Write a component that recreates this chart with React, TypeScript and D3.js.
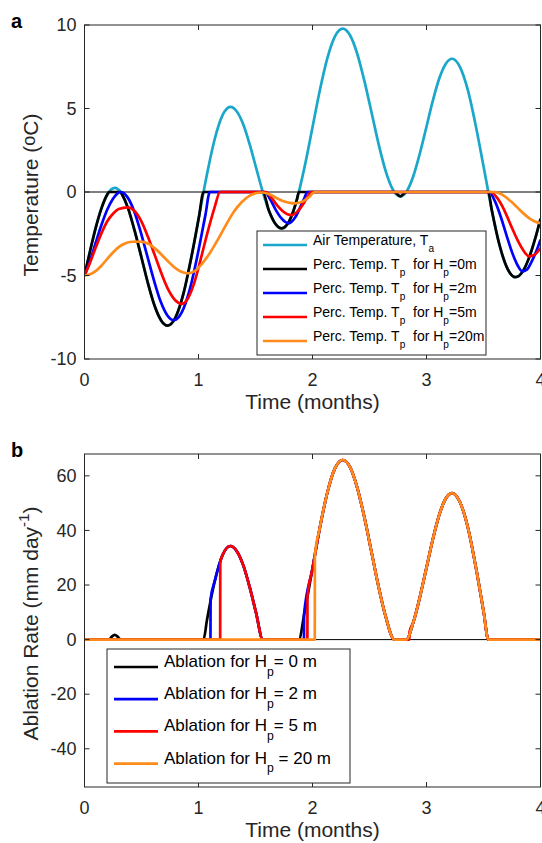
import React from 'react';
import * as d3 from 'd3';

type P = [number, number];

// ---------- data ----------
const X_TICKS = [0, 1, 2, 3, 4];
const TEMP_TICKS = [-10, -5, 0, 5, 10];
const ABL_TICKS = [-40, -20, 0, 20, 40, 60];
const TIME_DOMAIN: [number, number] = [0, 4];
const TEMP_DOMAIN: [number, number] = [-10, 10];
const ABL_DOMAIN: [number, number] = [-54, 68];

// Air temperature T_a (°C)
const airTemp: P[] = [
  [0, -5.0], [0.05, -3.5], [0.1, -2.1], [0.15, -0.95], [0.2, -0.15], [0.265, 0.25], [0.323, -0.06],
  [0.381, -0.95], [0.439, -2.3], [0.498, -3.875], [0.556, -5.45], [0.614, -6.8], [0.672, -7.69], [0.73, -8.0],
  [0.799, -7.5], [0.868, -6.09], [0.936, -3.95], [1.005, -1.45], [1.074, 1.05], [1.143, 3.19], [1.211, 4.6],
  [1.28, 5.1], [1.336, 4.82], [1.393, 4.04], [1.449, 2.85], [1.505, 1.46], [1.561, 0.07], [1.618, -1.12],
  [1.674, -1.9], [1.73, -2.18], [1.797, -1.73], [1.864, -0.43], [1.931, 1.52], [1.998, 3.8], [2.064, 6.08],
  [2.131, 8.03], [2.198, 9.33], [2.265, 9.78], [2.328, 9.4], [2.391, 8.31], [2.454, 6.68], [2.518, 4.76],
  [2.581, 2.84], [2.644, 1.21], [2.707, 0.12], [2.77, -0.26], [2.827, 0.05], [2.884, 0.94], [2.941, 2.29],
  [2.998, 3.86], [3.054, 5.43], [3.111, 6.78], [3.168, 7.67], [3.225, 7.98], [3.294, 7.48], [3.364, 6.07],
  [3.433, 3.94], [3.503, 1.44], [3.572, -1.06], [3.641, -3.19], [3.711, -4.6], [3.78, -5.1], [3.85, -4.69],
  [3.9, -3.93], [3.95, -2.87], [4.0, -1.6],
];

// Percolation temperature T_p, H_p = 0 m
const perc0: P[] = [
  [0, -5.0], [0.05, -3.5], [0.1, -2.1], [0.15, -0.95], [0.2, -0.15], [0.215, 0], [0.318, 0], [0.323, -0.06],
  [0.381, -0.95], [0.439, -2.3], [0.498, -3.875], [0.556, -5.45], [0.614, -6.8], [0.672, -7.69], [0.73, -8.0],
  [0.799, -7.5], [0.868, -6.09], [0.936, -3.95], [1.005, -1.45], [1.044, 0], [1.564, 0], [1.618, -1.12],
  [1.674, -1.9], [1.73, -2.18], [1.797, -1.73], [1.864, -0.43], [1.88, 0], [2.718, 0], [2.77, -0.26],
  [2.822, 0], [3.542, 0], [3.572, -1.06], [3.641, -3.19], [3.711, -4.6], [3.78, -5.1], [3.85, -4.69],
  [3.9, -3.93], [3.95, -2.87], [4.0, -1.6],
];

// H_p = 2 m
const perc2: P[] = [
  [0, -5.0], [0.05, -4.1], [0.1, -3.0], [0.15, -1.95], [0.2, -1.05], [0.25, -0.4], [0.29, -0.08], [0.316, 0],
  [0.375, -0.29], [0.434, -1.12], [0.492, -2.37], [0.551, -3.84], [0.61, -5.31], [0.668, -6.56], [0.727, -7.39],
  [0.785, -7.68], [0.854, -7.2], [0.923, -5.85], [0.991, -3.8], [1.06, -1.4], [1.1, 0], [1.58, 0], [1.63, -0.45],
  [1.68, -1.1], [1.73, -1.6], [1.79, -1.88], [1.85, -1.5], [1.9, -0.8], [1.93, -0.35], [1.955, 0], [3.55, 0],
  [3.6, -0.55], [3.65, -1.45], [3.7, -2.55], [3.75, -3.6], [3.8, -4.4], [3.84, -4.75], [3.88, -4.65],
  [3.92, -4.2], [3.96, -3.6], [4.0, -2.85],
];

// H_p = 5 m
const perc5: P[] = [
  [0, -5.0], [0.05, -4.2], [0.1, -3.3], [0.15, -2.45], [0.2, -1.75], [0.25, -1.3], [0.3, -1.02], [0.38, -0.92],
  [0.439, -1.14], [0.499, -1.76], [0.558, -2.71], [0.618, -3.81], [0.677, -4.91], [0.736, -5.86], [0.796, -6.48],
  [0.855, -6.7], [0.9, -6.45], [0.96, -5.5], [1.02, -4.0], [1.08, -2.4], [1.14, -0.95], [1.19, 0], [1.59, 0],
  [1.64, -0.35], [1.69, -0.8], [1.74, -1.15], [1.78, -1.33], [1.82, -1.38], [1.87, -1.15], [1.92, -0.7],
  [1.96, -0.25], [1.985, 0], [3.56, 0], [3.62, -0.35], [3.68, -1.05], [3.74, -2.0], [3.8, -2.9], [3.85, -3.5],
  [3.9, -3.85], [3.95, -3.75], [4.0, -3.35],
];

// H_p = 20 m
const perc20: P[] = [
  [0, -5.0], [0.05, -4.92], [0.1, -4.72], [0.15, -4.4], [0.2, -4.0], [0.25, -3.62], [0.3, -3.3], [0.35, -3.1],
  [0.42, -2.98], [0.49, -2.97], [0.56, -3.1], [0.63, -3.45], [0.7, -3.92], [0.77, -4.4], [0.84, -4.75],
  [0.905, -4.87], [0.97, -4.72], [1.03, -4.3], [1.1, -3.65], [1.17, -2.85], [1.24, -1.98], [1.31, -1.18],
  [1.38, -0.6], [1.45, -0.22], [1.51, -0.06], [1.56, -0.03], [1.62, -0.14], [1.68, -0.34], [1.74, -0.54],
  [1.8, -0.65], [1.85, -0.68], [1.92, -0.55], [1.97, -0.3], [2.02, 0], [3.6, 0], [3.65, -0.1], [3.7, -0.33],
  [3.75, -0.62], [3.8, -0.95], [3.85, -1.28], [3.9, -1.56], [3.95, -1.76], [4.0, -1.86],
];

// Ablation rate (mm/day)
const abl0: P[] = [
  [0, 0], [0.215, 0], [0.24, 1.1], [0.265, 1.7], [0.29, 1.1], [0.318, 0], [1.044, 0], [1.074, 7.1], [1.143, 21.5],
  [1.211, 31.0], [1.28, 34.3], [1.336, 32.4], [1.393, 27.2], [1.449, 19.2], [1.505, 9.8], [1.564, 0], [1.88, 0],
  [1.931, 10.2], [1.998, 25.6], [2.064, 40.9], [2.131, 54.0], [2.198, 62.8], [2.265, 65.8], [2.328, 63.3],
  [2.391, 55.9], [2.454, 45.0], [2.518, 32.0], [2.581, 19.1], [2.644, 8.1], [2.718, 0], [2.822, 0], [2.884, 6.3],
  [2.941, 15.4], [2.998, 26.0], [3.054, 36.5], [3.111, 45.6], [3.168, 51.6], [3.225, 53.7], [3.294, 50.3],
  [3.364, 40.9], [3.433, 26.5], [3.503, 9.7], [3.542, 0], [4.0, 0],
];

const abl2: P[] = [
  [0, 0], [1.105, 0], [1.106, 14.8], [1.143, 21.5], [1.211, 31.0], [1.28, 34.3], [1.336, 32.4], [1.393, 27.2],
  [1.449, 19.2], [1.505, 9.8], [1.564, 0], [1.925, 0], [1.926, 9.2], [1.998, 25.6], [2.064, 40.9], [2.131, 54.0],
  [2.198, 62.8], [2.265, 65.8], [2.328, 63.3], [2.391, 55.9], [2.454, 45.0], [2.518, 32.0], [2.581, 19.1],
  [2.644, 8.1], [2.718, 0], [2.822, 0], [2.884, 6.3], [2.941, 15.4], [2.998, 26.0], [3.054, 36.5], [3.111, 45.6],
  [3.168, 51.6], [3.225, 53.7], [3.294, 50.3], [3.364, 40.9], [3.433, 26.5], [3.503, 9.7], [3.542, 0], [4.0, 0],
];

const abl5: P[] = [
  [0, 0], [1.19, 0], [1.191, 28.1], [1.211, 31.0], [1.28, 34.3], [1.336, 32.4], [1.393, 27.2], [1.449, 19.2],
  [1.505, 9.8], [1.564, 0], [1.955, 0], [1.956, 15.7], [1.998, 25.6], [2.064, 40.9], [2.131, 54.0], [2.198, 62.8],
  [2.265, 65.8], [2.328, 63.3], [2.391, 55.9], [2.454, 45.0], [2.518, 32.0], [2.581, 19.1], [2.644, 8.1],
  [2.718, 0], [2.85, 0], [2.851, 2.8], [2.884, 6.3], [2.941, 15.4], [2.998, 26.0], [3.054, 36.5], [3.111, 45.6],
  [3.168, 51.6], [3.225, 53.7], [3.294, 50.3], [3.364, 40.9], [3.433, 26.5], [3.503, 9.7], [3.542, 0], [4.0, 0],
];

const abl20: P[] = [
  [0, 0], [2.02, 0], [2.021, 30.7], [2.064, 40.9], [2.131, 54.0], [2.198, 62.8], [2.265, 65.8], [2.328, 63.3],
  [2.391, 55.9], [2.454, 45.0], [2.518, 32.0], [2.581, 19.1], [2.644, 8.1], [2.718, 0], [2.822, 0], [2.884, 6.3],
  [2.941, 15.4], [2.998, 26.0], [3.054, 36.5], [3.111, 45.6], [3.168, 51.6], [3.225, 53.7], [3.294, 50.3],
  [3.364, 40.9], [3.433, 26.5], [3.503, 9.7], [3.542, 0], [4.0, 0],
];

// ---------- styling ----------
const W = 542;
const H = 843;
const AX_L = 84.5;
const AX_R = 540.5;
const PANEL_A = { top: 25, bottom: 359 };
const PANEL_B = { top: 454, bottom: 787 };
const AXIS_COLOR = '#262626';
const FONT = '"Liberation Sans", Arial, Helvetica, sans-serif';
const C_CYAN = '#1BA7C9';
const C_BLACK = '#000000';
const C_BLUE = '#0000FF';
const C_RED = '#FF0000';
const C_ORANGE = '#FF8C1A';
const LW = 2.7;
const TICK_FS = 18;
const LABEL_FS = 21;

type Part = { t: string; sub?: boolean; sup?: boolean; small?: boolean };

function Rich({ parts, fs }: { parts: Part[]; fs: number }) {
  let cur = 0;
  return (
    <>
      {parts.map((p, i) => {
        const target = p.sub ? fs * 0.5 : p.sup ? -fs * 0.42 : p.small ? -fs * 0.12 : 0;
        const dy = target - cur;
        cur = target;
        const size = p.sub || p.sup ? fs * 0.72 : p.small ? fs * 0.85 : fs;
        return (
          <tspan key={i} dy={dy} fontSize={size}>
            {p.t}
          </tspan>
        );
      })}
    </>
  );
}

const xScale = d3.scaleLinear().domain(TIME_DOMAIN).range([AX_L, AX_R]);

type Series = { data: P[]; color: string; label: Part[] };

function Panel({
  id, top, bottom, yDomain, yTicks, series, ylabel, letter, legend,
}: {
  id: string; top: number; bottom: number; yDomain: [number, number]; yTicks: number[];
  series: Series[]; ylabel: Part[]; letter: string;
  legend: { x: number; y: number; w: number; h: number; rowH: number; fs: number; lineX0: number; lineX1: number; textX: number; firstRow: number };
}) {
  const y = d3.scaleLinear().domain(yDomain).range([bottom, top]);
  const line = d3.line<P>().x(d => xScale(d[0])).y(d => y(d[1])).curve(d3.curveMonotoneX);
  const tl = 5;
  return (
    <g>
      <defs>
        <clipPath id={`clip-${id}`}>
          <rect x={AX_L} y={top} width={AX_R - AX_L} height={bottom - top} />
        </clipPath>
      </defs>
      <rect x={AX_L} y={top} width={AX_R - AX_L} height={bottom - top} fill="#fff" />
      <line x1={xScale(TIME_DOMAIN[0])} x2={xScale(TIME_DOMAIN[1])} y1={y(0)} y2={y(0)} stroke="#000" strokeWidth={1} />
      <g clipPath={`url(#clip-${id})`}>
        {series.map((s, i) => (
          <path key={i} d={line(s.data) || ''} fill="none" stroke={s.color} strokeWidth={LW} strokeLinejoin="round" strokeLinecap="butt" />
        ))}
      </g>
      <rect x={AX_L} y={top} width={AX_R - AX_L} height={bottom - top} fill="none" stroke={AXIS_COLOR} strokeWidth={1} />
      {X_TICKS.map(t => (
        <g key={`x${t}`}>
          <line x1={xScale(t)} x2={xScale(t)} y1={bottom} y2={bottom - tl} stroke={AXIS_COLOR} />
          <line x1={xScale(t)} x2={xScale(t)} y1={top} y2={top + tl} stroke={AXIS_COLOR} />
          <text x={xScale(t)} y={bottom + 27} textAnchor="middle" fontSize={TICK_FS} fill={AXIS_COLOR} fontFamily={FONT}>{t}</text>
        </g>
      ))}
      {yTicks.map(t => (
        <g key={`y${t}`}>
          <line x1={AX_L} x2={AX_L + tl} y1={y(t)} y2={y(t)} stroke={AXIS_COLOR} />
          <line x1={AX_R} x2={AX_R - tl} y1={y(t)} y2={y(t)} stroke={AXIS_COLOR} />
          <text x={AX_L - 8} y={y(t)} dy="0.35em" textAnchor="end" fontSize={TICK_FS} fill={AXIS_COLOR} fontFamily={FONT}>{t}</text>
        </g>
      ))}
      <text x={(AX_L + AX_R) / 2} y={bottom + 50} textAnchor="middle" fontSize={LABEL_FS} fill={AXIS_COLOR} fontFamily={FONT}>Time (months)</text>
      <text transform={`translate(37.5, ${(top + bottom) / 2 + 3}) rotate(-90)`} textAnchor="middle" fontSize={LABEL_FS} fill={AXIS_COLOR} fontFamily={FONT} style={{ whiteSpace: 'pre' }}>
        <Rich parts={ylabel} fs={LABEL_FS} />
      </text>
      <text x={11} y={top + 3} fontSize={20} fontWeight="bold" fill="#000" fontFamily={FONT}>{letter}</text>
      <g>
        <rect x={legend.x} y={legend.y} width={legend.w} height={legend.h} fill="#fff" stroke={AXIS_COLOR} strokeWidth={1} />
        {series.map((s, i) => {
          const ry = legend.firstRow + i * legend.rowH;
          return (
            <g key={i}>
              <line x1={legend.lineX0} x2={legend.lineX1} y1={ry} y2={ry} stroke={s.color} strokeWidth={LW} />
              <text x={legend.textX} y={ry} dy="0.35em" fontSize={legend.fs} fill="#000" fontFamily={FONT} style={{ whiteSpace: 'pre' }}>
                <Rich parts={s.label} fs={legend.fs} />
              </text>
            </g>
          );
        })}
      </g>
    </g>
  );
}

const percLabel = (h: string): Part[] => [
  { t: 'Perc. Temp. T' }, { t: 'p', sub: true }, { t: '  for H' }, { t: 'p', sub: true }, { t: `=${h}m` },
];
const ablLabel = (h: string, sp: string): Part[] => [
  { t: 'Ablation for H' }, { t: 'p', sub: true }, { t: `${sp}= ${h} m` },
];

export default function App() {
  const seriesA: Series[] = [
    { data: airTemp, color: C_CYAN, label: [{ t: 'Air Temperature, T' }, { t: 'a', sub: true }] },
    { data: perc0, color: C_BLACK, label: percLabel('0') },
    { data: perc2, color: C_BLUE, label: percLabel('2') },
    { data: perc5, color: C_RED, label: percLabel('5') },
    { data: perc20, color: C_ORANGE, label: percLabel('20') },
  ];
  const seriesB: Series[] = [
    { data: abl0, color: C_BLACK, label: ablLabel('0', '') },
    { data: abl2, color: C_BLUE, label: ablLabel('2', '') },
    { data: abl5, color: C_RED, label: ablLabel('5', '') },
    { data: abl20, color: C_ORANGE, label: ablLabel('20', ' ') },
  ];
  return (
    <svg width={W} height={H} style={{ position: 'absolute', left: 0, top: 0, background: '#fff' }} xmlns="http://www.w3.org/2000/svg">
      <rect x={0} y={0} width={W} height={H} fill="#fff" />
      <Panel
        id="a" top={PANEL_A.top} bottom={PANEL_A.bottom} yDomain={TEMP_DOMAIN} yTicks={TEMP_TICKS}
        series={seriesA}
        ylabel={[{ t: 'Temperature (' }, { t: 'o', small: true }, { t: 'C)' }]}
        letter="a"
        legend={{ x: 257, y: 231, w: 229, h: 124, rowH: 24, fs: 14, lineX0: 263, lineX1: 307, textX: 313, firstRow: 245 }}
      />
      <Panel
        id="b" top={PANEL_B.top} bottom={PANEL_B.bottom} yDomain={ABL_DOMAIN} yTicks={ABL_TICKS}
        series={seriesB}
        ylabel={[{ t: 'Ablation Rate (mm day' }, { t: '-1', sup: true }, { t: ')' }]}
        letter="b"
        legend={{ x: 107, y: 649, w: 243, h: 134, rowH: 32.2, fs: 17, lineX0: 114, lineX1: 158, textX: 164, firstRow: 667 }}
      />
    </svg>
  );
}
